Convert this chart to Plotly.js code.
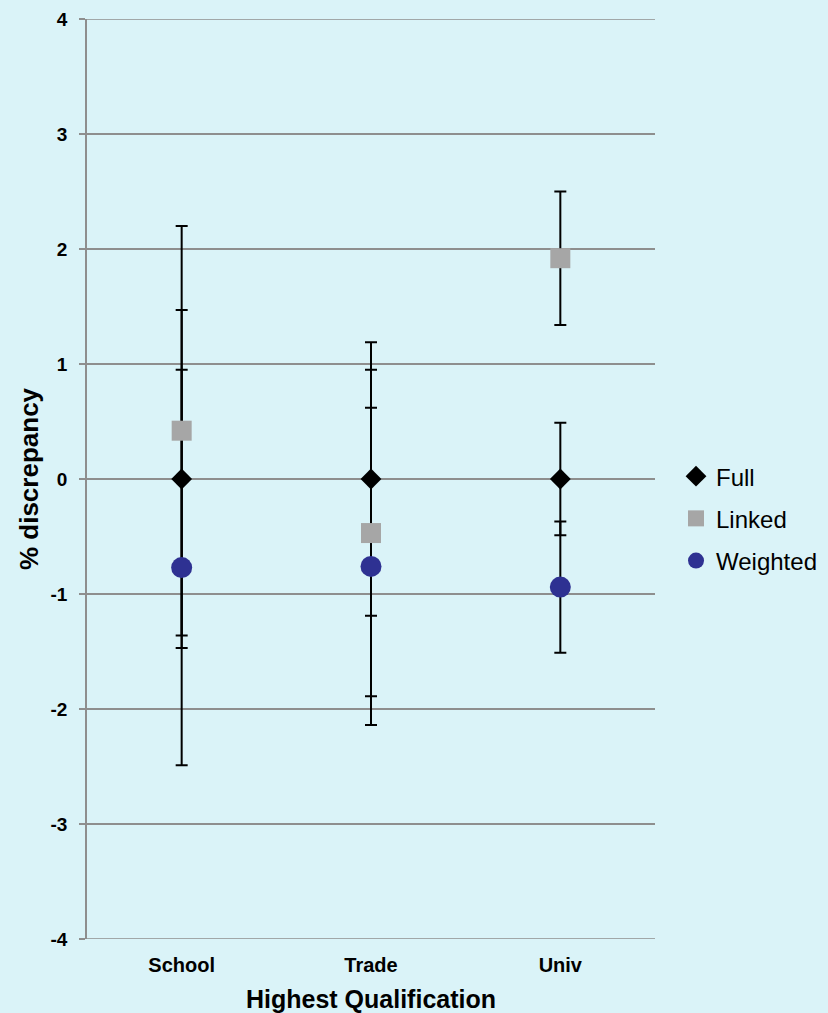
<!DOCTYPE html>
<html>
<head>
<meta charset="utf-8">
<script src="https://cdn.plot.ly/plotly-3.0.1.min.js"></script>
<style>html,body{margin:0;padding:0;background:#DAF3F8;}</style>
</head>
<body>
<div id="chart" style="width:828px;height:1013px;"></div>
<script>
const categories = ["School", "Trade", "Univ"];
const fullValues = [0, 0, 0];
const fullErrors = [1.47, 1.19, 0.49];
const linkedValues = [0.42, -0.47, 1.92];
const linkedErrors = [1.78, 1.42, 0.58];
const weightedValues = [-0.77, -0.76, -0.94];
const weightedErrors = [1.72, 1.38, 0.57];
const yTicks = [-4, -3, -2, -1, 0, 1, 2, 3, 4];

const seriesNames = ["Full", "Linked", "Weighted"];
const seriesValues = [fullValues, linkedValues, weightedValues];
const seriesErrors = [fullErrors, linkedErrors, weightedErrors];
const seriesMarkers = [
  {symbol: "diamond", size: 16, color: "#000000"},
  {symbol: "square", size: 20, color: "#A6A6A6"},
  {symbol: "circle", size: 21, color: "#2E3192"}
];

const traces = [];
// error bars first (behind markers)
seriesNames.forEach((n, i) => {
  traces.push({
    x: categories, y: seriesValues[i], type: "scatter", mode: "markers",
    showlegend: false, hoverinfo: "skip",
    marker: {size: 1, color: "rgba(0,0,0,0)"},
    error_y: {type: "data", array: seriesErrors[i], visible: true, color: "#000000", thickness: 2, width: 6}
  });
});
seriesNames.forEach((n, i) => {
  traces.push({
    x: categories, y: seriesValues[i], type: "scatter", mode: "markers", name: n,
    legendgroup: n,
    marker: {symbol: seriesMarkers[i].symbol, size: seriesMarkers[i].size, color: seriesMarkers[i].color, line: {width: 0}}
  });
});

const layout = {
  width: 828, height: 1013,
  paper_bgcolor: "#DAF3F8", plot_bgcolor: "#DAF3F8",
  margin: {l: 87, r: 173, t: 19, b: 74, autoexpand: false},
  font: {family: "Liberation Sans, Arial, sans-serif", color: "#000000"},
  showlegend: true,
  legend: {x: 1.037, y: 0.457, xanchor: "left", yanchor: "middle", font: {size: 24, color: "#000000"},
           bgcolor: "rgba(0,0,0,0)", itemwidth: 30, traceorder: "grouped", tracegroupgap: 8},
  xaxis: {
    type: "category", range: [-0.5, 2.5], showgrid: false, zeroline: false,
    showline: false, ticks: "", ticklabelstandoff: 12, automargin: false,
    tickfont: {size: 20, color: "#000000", weight: "bold"},
    title: {text: "<b>Highest Qualification</b>", font: {size: 25}, standoff: 15}
  },
  yaxis: {
    range: [-4, 4], tickvals: yTicks, ticktext: yTicks.map(String), automargin: false,
    showgrid: true, gridcolor: "#8E8E8E", gridwidth: 1.5,
    zeroline: true, zerolinecolor: "#8E8E8E", zerolinewidth: 1.5,
    showline: true, linecolor: "#8E8E8E", linewidth: 1.5,
    ticks: "outside", ticklen: 6, tickcolor: "#8E8E8E", tickwidth: 1.5, ticklabelstandoff: 8,
    tickfont: {size: 19, color: "#000000", weight: "bold"},
    title: {text: "<b>% discrepancy</b>", font: {size: 26}, standoff: 4}
  },
  shapes: [
    {type: "line", xref: "paper", yref: "y", x0: 0, x1: 1, y0: -4, y1: -4, line: {color: "#8E8E8E", width: 1.5}},
    {type: "line", xref: "paper", yref: "y", x0: 0, x1: 1, y0: 4, y1: 4, line: {color: "#8E8E8E", width: 1.5}}
  ]
};

Plotly.newPlot("chart", traces, layout, {displayModeBar: false});
</script>
</body>
</html>
